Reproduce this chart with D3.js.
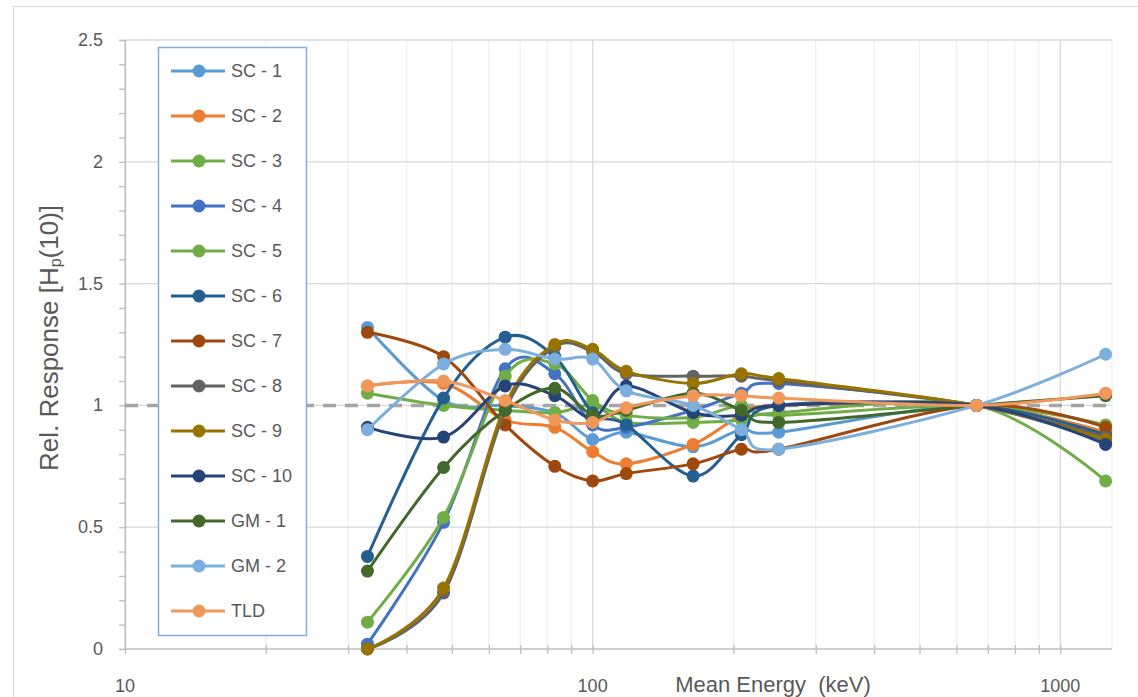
<!DOCTYPE html>
<html><head><meta charset="utf-8">
<script src="https://cdn.jsdelivr.net/npm/d3@7"></script>
<style>
body{margin:0;background:#fff;}
text{font-family:"Liberation Sans",Arial,sans-serif;fill:#595959;}
</style></head>
<body><svg id="c" width="1138" height="697"></svg>
<script>
const energies = [33, 48, 65, 83, 100, 118, 164, 208, 250, 662, 1250];
const seriesNames = ["SC - 1","SC - 2","SC - 3","SC - 4","SC - 5","SC - 6","SC - 7","SC - 8","SC - 9","SC - 10","GM - 1","GM - 2","TLD"];
const sc1  = [1.32, 1.02, 1.00, 0.97, 0.86, 0.89, 0.83, 0.90, 0.89, 1.00, 0.87];
const sc2  = [1.08, 1.09, 0.94, 0.91, 0.81, 0.76, 0.84, 0.96, 1.00, 1.00, 0.89];
const sc3  = [1.05, 1.00, 0.98, 0.97, 1.00, 0.93, 0.93, 0.94, 0.97, 1.00, 0.69];
const sc4  = [0.02, 0.52, 1.15, 1.13, 0.92, 0.91, 0.98, 1.05, 1.09, 1.00, 0.85];
const sc5  = [0.11, 0.54, 1.12, 1.17, 1.02, 0.96, 0.95, 1.00, 0.96, 1.00, 0.92];
const sc6  = [0.38, 1.03, 1.28, 1.20, 0.97, 0.92, 0.71, 0.88, 1.00, 1.00, 0.88];
const sc7  = [1.30, 1.20, 0.92, 0.75, 0.69, 0.72, 0.76, 0.82, 0.82, 1.00, 0.91];
const sc8  = [0.00, 0.23, 0.98, 1.24, 1.22, 1.13, 1.12, 1.12, 1.10, 1.00, 0.87];
const sc9  = [0.00, 0.25, 1.00, 1.25, 1.23, 1.14, 1.09, 1.13, 1.11, 1.00, 0.86];
const sc10 = [0.91, 0.87, 1.08, 1.04, 0.95, 1.08, 0.97, 0.96, 1.00, 1.00, 0.84];
const gm1  = [0.32, 0.745, 0.98, 1.07, 0.96, 0.98, 1.05, 0.98, 0.93, 1.00, 1.04];
const gm2  = [0.90, 1.17, 1.23, 1.19, 1.19, 1.06, 1.00, 0.90, 0.82, 1.00, 1.21];
const tld  = [1.08, 1.10, 1.02, 0.94, 0.93, 0.99, 1.04, 1.04, 1.03, 1.00, 1.05];
const seriesValues = [sc1, sc2, sc3, sc4, sc5, sc6, sc7, sc8, sc9, sc10, gm1, gm2, tld];
const colors = ["#5B9BD5","#ED7D31","#70AD47","#4472C4","#70AD47","#255E91","#9E480E","#636363","#997300","#264478","#43682B","#7CAFDD","#F1975A"];
const yTicks = [0, 0.5, 1, 1.5, 2, 2.5];
const xTickLabels = [10, 100, 1000];
const refValue = 1;

const svg = d3.select("#c");
const L = 125, R = 1112, T = 40, B = 649;
const x = d3.scaleLog().domain([10, 1290]).range([L, R]);
const y = d3.scaleLinear().domain([0, 2.5]).range([B, T]);

// outer chart border
svg.append("rect").attr("x", 13.5).attr("y", 6.5).attr("width", 1200).attr("height", 800)
  .attr("fill", "none").attr("stroke", "#D9D9D9").attr("stroke-width", 1);

// vertical gridlines (minor + major)
const minor = [];
for (let d = 10; d < 1300; d *= 10) for (let k = 1; k < 10; k++) { const v = d * k; if (v <= 1290) minor.push(v); }
svg.append("g").selectAll("line").data(minor).join("line")
  .attr("x1", d => x(d)).attr("x2", d => x(d)).attr("y1", T).attr("y2", B)
  .attr("stroke", d => (xTickLabels.includes(d) ? "#D9D9D9" : "#F0F0F0")).attr("stroke-width", 1.3);
svg.append("line").attr("x1", R).attr("x2", R).attr("y1", T).attr("y2", B).attr("stroke", "#F0F0F0").attr("stroke-width", 1.3);

// horizontal gridlines
svg.append("g").selectAll("line").data(yTicks.filter(d => d > 0)).join("line")
  .attr("x1", L).attr("x2", R).attr("y1", d => y(d)).attr("y2", d => y(d))
  .attr("stroke", "#D9D9D9").attr("stroke-width", 1.3);

// y axis
const yAxis = d3.axisLeft(y).tickValues(d3.range(0, 2.51, 0.1)).tickSize(6).tickFormat("");
const gy = svg.append("g").attr("transform", `translate(${L},0)`).call(yAxis);
gy.select(".domain").attr("stroke", "#BFBFBF").attr("stroke-width", 1.3);
gy.selectAll(".tick line").attr("stroke", "#BFBFBF").attr("stroke-width", 1.3);
svg.append("g").selectAll("text").data(yTicks).join("text")
  .attr("x", 103).attr("y", d => y(d) + 6).attr("text-anchor", "end")
  .attr("font-size", 18).text(d => d);

// x axis
const xAxis = d3.axisBottom(x).tickValues(minor).tickSize(5).tickFormat("");
const gx = svg.append("g").attr("transform", `translate(0,${B})`).call(xAxis);
gx.select(".domain").attr("stroke", "#BFBFBF").attr("stroke-width", 1.3).attr("d", `M${L},0H${R}`);
gx.selectAll(".tick line").attr("stroke", "#BFBFBF").attr("stroke-width", 1.3).attr("y1", -4);
svg.append("g").selectAll("text").data(xTickLabels).join("text")
  .attr("x", d => x(d)).attr("y", 692).attr("text-anchor", "middle")
  .attr("font-size", 18).text(d => d);
svg.append("text").attr("x", 773).attr("y", 692).attr("text-anchor", "middle")
  .attr("font-size", 22).attr("xml:space", "preserve").text("Mean Energy  (keV)");

// y title
const yt = svg.append("text").attr("transform", `translate(58,338) rotate(-90)`)
  .attr("text-anchor", "middle").attr("font-size", 26);
yt.append("tspan").text("Rel. Response [H");
yt.append("tspan").attr("font-size", 16).attr("dy", 3).text("p");
yt.append("tspan").attr("dy", -3).text("(10)]");

// reference line
svg.append("line").attr("x1", L).attr("x2", R).attr("y1", y(refValue)).attr("y2", y(refValue))
  .attr("stroke", "#A5A5A5").attr("stroke-width", 3.5).attr("stroke-dasharray", "13,9");

// series
const line = d3.line().x(d => x(d[0])).y(d => y(d[1])).curve(d3.curveCatmullRom.alpha(0));
seriesValues.forEach((vals, i) => {
  const pts = energies.map((e, j) => [e, vals[j]]);
  const g = svg.append("g");
  g.append("path").attr("d", line(pts)).attr("fill", "none")
    .attr("stroke", colors[i]).attr("stroke-width", 3);
  g.selectAll("circle").data(pts).join("circle")
    .attr("cx", d => x(d[0])).attr("cy", d => y(d[1])).attr("r", 6.5).attr("fill", colors[i]);
});

// legend
const lg = svg.append("g");
lg.append("rect").attr("x", 158.5).attr("y", 47.5).attr("width", 148).attr("height", 588)
  .attr("fill", "#fff").attr("stroke", "#7CAFDD").attr("stroke-width", 1.5);
seriesNames.forEach((n, i) => {
  const yy = 71 + i * 45;
  lg.append("line").attr("x1", 171).attr("x2", 225).attr("y1", yy).attr("y2", yy)
    .attr("stroke", colors[i]).attr("stroke-width", 3);
  lg.append("circle").attr("cx", 199).attr("cy", yy).attr("r", 6.5).attr("fill", colors[i]);
  lg.append("text").attr("x", 231).attr("y", yy + 6).attr("font-size", 18).text(n);
});
</script></body></html>
